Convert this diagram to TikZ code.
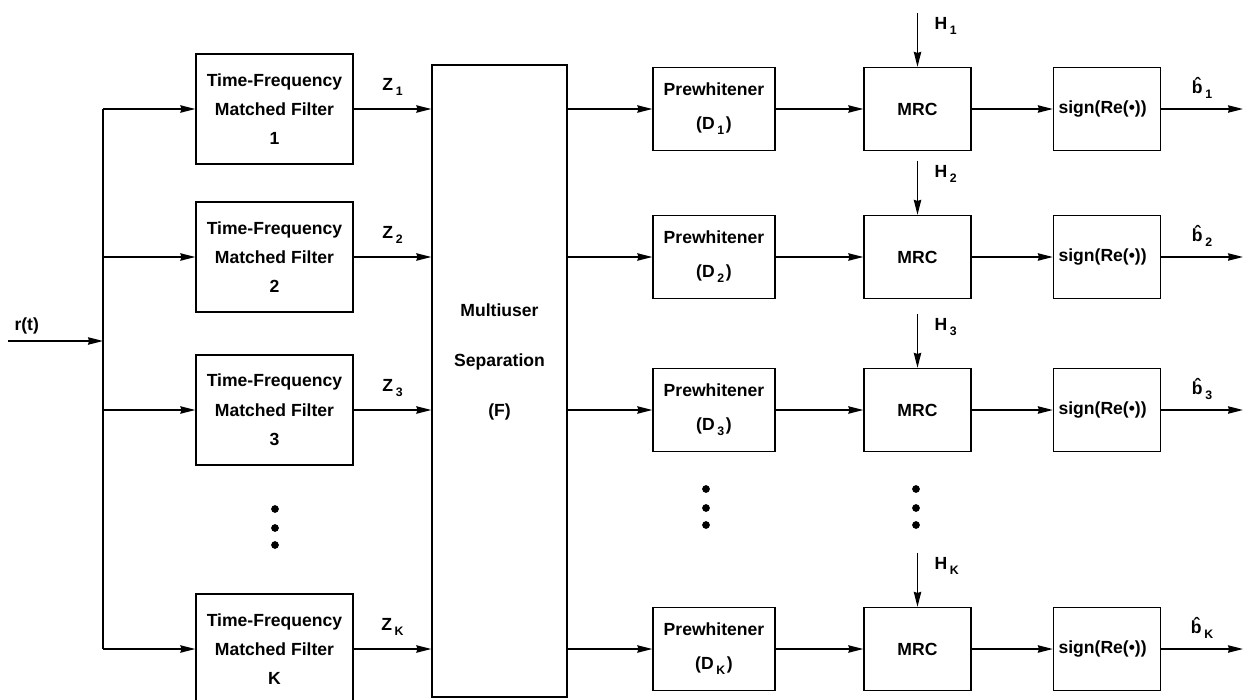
\documentclass[tikz,border=0pt]{standalone}
\usepackage{fontspec}
\setmainfont{Liberation Sans}
\usetikzlibrary{positioning,arrows.meta}
\newcommand{\lsub}[1]{\kern1.5pt\raisebox{-3pt}{\scriptsize #1}}

\begin{document}
\begin{tikzpicture}[->,>={Stealth[length=8.5pt,width=4.2pt,inset=0.6pt]},
	x=0.02cm,y=-0.02cm,line width=0.8pt,font=\bfseries,
	block/.style={shape=rectangle, draw=black, inner sep=0pt, align=center},
	filt/.style={block, minimum width=3.14cm, minimum height=2.2cm},
	prew/.style={block, minimum width=2.44cm, minimum height=1.66cm},
	small/.style={block, minimum width=2.14cm, minimum height=1.66cm}];
	\useasboundingbox (0,0) rectangle (1249,700);
	
	\node[filt] (f1) at (274.5,109) {Time-Frequency\\[4.7pt]Matched Filter\\[4.7pt]1};
	\node[filt] (f2) at (274.5,257) {Time-Frequency\\[4.7pt]Matched Filter\\[4.7pt]2};
	\node[filt] (f3) at (274.5,410) {Time-Frequency\\[4.7pt]Matched Filter\\[4.7pt]3};
	\node[filt] (fK) at (274.5,649) {Time-Frequency\\[4.7pt]Matched Filter\\[4.7pt]K};
	
	\node[block, minimum width=2.7cm, minimum height=12.64cm,
		label={[align=center,yshift=0.38cm]center:{Multiuser\\[16.5pt]Separation\\[16.5pt](F)}}]
		(mu) at (499.5,381) {};
	
	\node[prew] (p1) at (714,109) {Prewhitener\\[7.3pt](D\lsub{1}\kern1pt)};
	\node[prew] (p2) at (714,257) {Prewhitener\\[7.3pt](D\lsub{2}\kern1pt)};
	\node[prew] (p3) at (714,410) {Prewhitener\\[7.3pt](D\lsub{3}\kern1pt)};
	\node[prew] (pK) at (714,649) {Prewhitener\\[7.3pt](D\lsub{K}\kern1pt)};
	
	\node[small] (m1) at (917.5,109) {MRC};
	\node[small] (m2) at (917.5,257) {MRC};
	\node[small] (m3) at (917.5,410) {MRC};
	\node[small] (mK) at (917.5,649) {MRC};
	
	\node[small] (s1) at (1107,109) {sign(Re(\textbullet))\kern5pt};
	\node[small] (s2) at (1107,257) {sign(Re(\textbullet))\kern5pt};
	\node[small] (s3) at (1107,410) {sign(Re(\textbullet))\kern5pt};
	\node[small] (sK) at (1107,649) {sign(Re(\textbullet))\kern5pt};
	
	\coordinate (rin) at (8,341);
	\coordinate (bus) at (103,341);
	\coordinate (out) at (1243,0);
	\coordinate[above=1.08cm of m1] (h1);
	\coordinate[above=1.08cm of m2] (h2);
	\coordinate[above=1.08cm of m3] (h3);
	\coordinate[above=1.08cm of mK] (hK);
	
	\draw[-] (bus |- f1) -- (bus |- fK);
	\path
	(rin) edge node[pos=0, above right] {r(t)} (bus)
	(bus |- f1) edge (f1)
	(bus |- f2) edge (f2)
	(bus |- f3) edge (f3)
	(bus |- fK) edge (fK)
	(f1) edge node[above=4pt] {Z\lsub{1}} (f1 -| mu.west)
	(f2) edge node[above=4pt] {Z\lsub{2}} (f2 -| mu.west)
	(f3) edge node[above=4pt] {Z\lsub{3}} (f3 -| mu.west)
	(fK) edge node[above=4pt] {Z\lsub{K}} (fK -| mu.west)
	(p1 -| mu.east) edge (p1)
	(p2 -| mu.east) edge (p2)
	(p3 -| mu.east) edge (p3)
	(pK -| mu.east) edge (pK)
	(p1) edge (m1)
	(p2) edge (m2)
	(p3) edge (m3)
	(pK) edge (mK)
	(h1) edge node[right=6pt, pos=0.25] {H\lsub{1}} (m1)
	(h2) edge node[right=6pt, pos=0.25] {H\lsub{2}} (m2)
	(h3) edge node[right=6pt, pos=0.25] {H\lsub{3}} (m3)
	(hK) edge node[right=6pt, pos=0.25] {H\lsub{K}} (mK)
	(m1) edge (s1)
	(m2) edge (s2)
	(m3) edge (s3)
	(mK) edge (sK)
	(s1) edge node[above=2pt] {\^{b}\lsub{1}} (s1 -| out)
	(s2) edge node[above=2pt] {\^{b}\lsub{2}} (s2 -| out)
	(s3) edge node[above=2pt] {\^{b}\lsub{3}} (s3 -| out)
	(sK) edge node[above=2pt] {\^{b}\lsub{K}} (sK -| out);
	
	% dots
	\fill[-] (275,509) circle (2.2pt) (275,528) circle (2.2pt) (275,545) circle (2.2pt);
	\fill[-] (706,489) circle (2.2pt) (706,508) circle (2.2pt) (706,525) circle (2.2pt);
	\fill[-] (916,489) circle (2.2pt) (916,508) circle (2.2pt) (916,525) circle (2.2pt);
\end{tikzpicture}
\end{document}
